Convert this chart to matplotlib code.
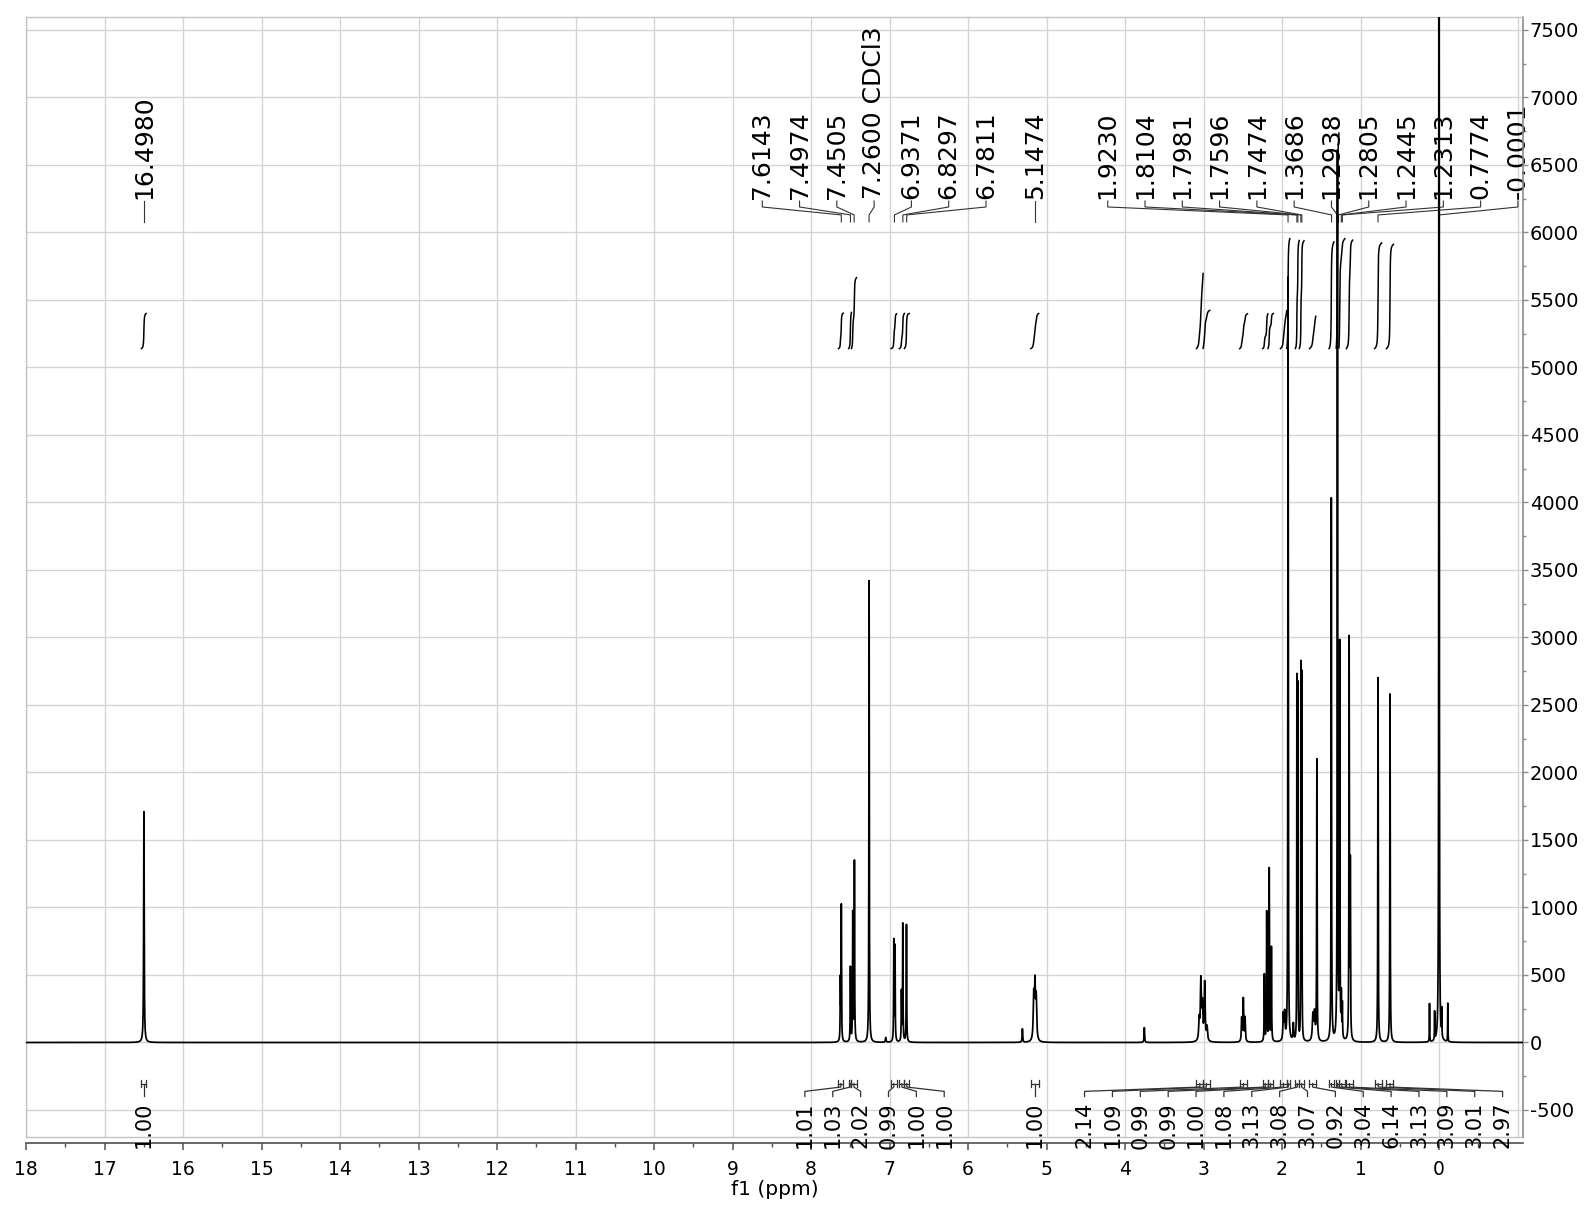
import numpy as np
import matplotlib
matplotlib.use("Agg")
import matplotlib.pyplot as plt
from matplotlib.ticker import FixedLocator, MultipleLocator, FuncFormatter

# ---------------- data ----------------
peak_ppm = [16.498,
            7.626, 7.614, 7.498, 7.468, 7.447, 7.260, 7.048, 6.945, 6.930, 6.848, 6.831, 6.784,
            5.307, 5.163, 5.147, 5.131,
            3.754,
            3.055, 3.034, 3.015, 2.985, 2.955,
            2.514, 2.493, 2.471,
            2.225, 2.195, 2.163, 2.135,
            1.983, 1.966, 1.923, 1.856,
            1.8104, 1.7981, 1.7596, 1.7474,
            1.607, 1.586, 1.556,
            1.372, 1.2938, 1.265, 1.2445, 1.2313, 1.145, 1.130,
            0.777, 0.624,
            0.121, 0.056, -0.0001, -0.035, -0.112]
peak_height = [1710,
               440, 1000, 550, 945, 1330, 3420, 35, 742, 698, 364, 870, 870,
               100, 320, 400, 300,
               110,
               150, 440, 250, 430, 100,
               170, 315, 175,
               495, 957, 1277, 693,
               190, 195, 5660, 125,
               2660, 2600, 2750, 2680,
               190, 200, 2080,
               4020, 6600, 2900, 300, 250, 2960, 1270,
               2700, 2580,
               283, 209, 20000, 200, 285]
peak_hwhm = [0.004,
             0.003, 0.003, 0.003, 0.003, 0.003, 0.003, 0.005, 0.003, 0.003, 0.003, 0.003, 0.003,
             0.004, 0.007, 0.007, 0.007,
             0.004,
             0.007, 0.007, 0.007, 0.007, 0.007,
             0.005, 0.005, 0.005,
             0.003, 0.003, 0.003, 0.003,
             0.006, 0.006, 0.003, 0.005,
             0.002, 0.002, 0.002, 0.002,
             0.008, 0.008, 0.003,
             0.003, 0.003, 0.003, 0.003, 0.003, 0.003, 0.003,
             0.003, 0.003,
             0.002, 0.002, 0.002, 0.002, 0.002]

peak_labels = [16.4980, 7.6143, 7.4974, 7.4505, 7.2600, 6.9371, 6.8297, 6.7811, 5.1474,
               1.9230, 1.8104, 1.7981, 1.7596, 1.7474, 1.3686, 1.2938, 1.2805,
               1.2445, 1.2313, 0.7774, -0.0001]
solvent_ppm = 7.2600
solvent_name = "CDCl3"

integral_start = [16.53, 7.65, 7.52, 7.485, 6.98, 6.875, 6.81, 5.20,
                  3.09, 3.005, 2.54, 2.245, 2.18, 2.02, 1.94, 1.83, 1.78, 1.65,
                  1.40, 1.31, 1.275, 1.18, 0.82, 0.67]
integral_end = [16.47, 7.59, 7.485, 7.42, 6.91, 6.81, 6.75, 5.10,
                3.005, 2.92, 2.44, 2.18, 2.11, 1.94, 1.90, 1.78, 1.72, 1.57,
                1.34, 1.275, 1.20, 1.10, 0.73, 0.58]
integral_values = [1.00, 1.01, 1.03, 2.02, 0.99, 1.00, 1.00, 1.00,
                   2.14, 1.09, 0.99, 0.99, 1.00, 1.08, 3.13, 3.08, 3.07, 0.92,
                   3.04, 6.14, 3.13, 3.09, 3.01, 2.97]

x_ticks = list(range(0, 19))
y_ticks = list(range(-500, 7501, 500))

# ---------------- layout constants ----------------
XL, XR = 18.0, -1.07
YB, YT = -700, 7594
INT_BASE, INT_UNIT = 5140, 260
PEAK_SP, INT_SP = 0.475, 0.355

def spread(targets, spacing, right_limit):
    targets = list(targets)
    groups = [[i] for i in range(len(targets))]

    def pos_of(g):
        c = np.mean([targets[i] for i in g])
        n = len(g)
        return c + spacing * ((n - 1) / 2 - np.arange(n))

    merged = True
    while merged:
        merged = False
        for k in range(len(groups) - 1):
            a = pos_of(groups[k]); b = pos_of(groups[k + 1])
            if a[-1] - b[0] < spacing:
                groups[k] = groups[k] + groups[k + 1]
                del groups[k + 1]
                merged = True
                break
    out = np.zeros(len(targets))
    for g in groups:
        p = pos_of(g)
        if p[-1] < right_limit:
            p = p + (right_limit - p[-1])
        out[g] = p
    return out

# ---------------- spectrum ----------------
ppm = np.arange(XL, XR - 0.001, -0.0005)
spec = np.zeros_like(ppm)
for p, h, w in zip(peak_ppm, peak_height, peak_hwhm):
    spec += h / (1.0 + ((ppm - p) / w) ** 2)

fig = plt.figure(figsize=(15.92, 12.11), dpi=100)
ax = fig.add_axes([26 / 1592, 1 - 1137 / 1211, (1523 - 26) / 1592, (1137 - 17.3) / 1211])
ax.set_xlim(XL, XR)
ax.set_ylim(YB, YT)

grid_c = "#d4d4d4"
ax.set_axisbelow(True)
ax.grid(True, which="major", color=grid_c, lw=1.0)
ax.axvline(-1, color=grid_c, lw=1.0, zorder=0.5)
ax.axhline(YB, color="#c4c4c4", lw=1.0, clip_on=False, zorder=0.6)

ax.plot(ppm, spec, color="black", lw=1.25, zorder=4)

# integral curves
for a, b, v in zip(integral_start, integral_end, integral_values):
    m = (ppm <= a) & (ppm >= b)
    cum = np.cumsum(spec[m])
    cum = cum / cum[-1]
    ax.plot(ppm[m], INT_BASE + v * INT_UNIT * cum, color="black", lw=1.1, zorder=4)

# peak labels
lab_x = spread(peak_labels, PEAK_SP, XR + 0.065)
for p, lx in zip(peak_labels, lab_x):
    ax.plot([lx, lx, p, p], [6233, 6189, 6130, 6078], color="#333333", lw=0.8,
            zorder=2, clip_on=False)
    txt = f"{p:.4f}"
    if abs(p - solvent_ppm) < 1e-6:
        txt = f"{p:.4f} {solvent_name}"
    ax.text(lx, 6250, txt, rotation=90, ha="center", va="bottom", fontsize=18,
            color="black", zorder=2)

# integral markers and labels
int_centers = [(a + b) / 2 for a, b in zip(integral_start, integral_end)]
int_x = spread(int_centers, INT_SP, XR + 0.26)
for a, b, c, lx, v in zip(integral_start, integral_end, int_centers, int_x, integral_values):
    ax.plot([a, a], [-278, -330], color="#333333", lw=0.9, clip_on=False)
    ax.plot([b, b], [-278, -330], color="#333333", lw=0.9, clip_on=False)
    ax.plot([a, b], [-304, -304], color="#333333", lw=0.9, clip_on=False)
    ax.plot([c, c, lx, lx], [-304, -330, -362, -400], color="#333333", lw=0.9,
            clip_on=False)
    ax.text(lx, -440, f"{v:.2f}", rotation=90, ha="center", va="top", fontsize=15,
            color="black")

# axes styling
for s in ["left", "top"]:
    ax.spines[s].set_color("#c4c4c4")
    ax.spines[s].set_linewidth(1.0)
ax.spines["right"].set_color("#8c8c8c")
ax.spines["right"].set_linewidth(1.2)
ax.spines["bottom"].set_position(("outward", 4.3))
ax.spines["bottom"].set_color("#505050")
ax.spines["bottom"].set_linewidth(1.2)

ax.xaxis.set_major_locator(FixedLocator(x_ticks))
ax.xaxis.set_minor_locator(FixedLocator([t + 0.5 for t in range(-1, 18)]))
ax.xaxis.set_major_formatter(FuncFormatter(lambda v, p: f"{int(round(v))}"))
ax.tick_params(axis="x", which="major", direction="out", length=5, width=1.1,
               color="#505050", labelsize=13.5, pad=7.5)
ax.tick_params(axis="x", which="minor", direction="out", length=3, width=1.0,
               color="#505050")

ax.yaxis.tick_right()
ax.yaxis.set_major_locator(FixedLocator(y_ticks))
ax.yaxis.set_minor_locator(MultipleLocator(250))
ax.yaxis.set_major_formatter(FuncFormatter(lambda v, p: f"{int(round(v))}"))
ax.tick_params(axis="y", which="major", direction="out", length=3.6, width=1.0,
               color="#8c8c8c", labelsize=14, pad=1.2, left=False, right=True)
ax.tick_params(axis="y", which="minor", direction="out", length=2.2, width=1.0,
               color="#8c8c8c", left=False, right=True)

ax.set_xlabel("f1 (ppm)", fontsize=14.5, labelpad=0.5)

fig.savefig("out.png", dpi=100)
